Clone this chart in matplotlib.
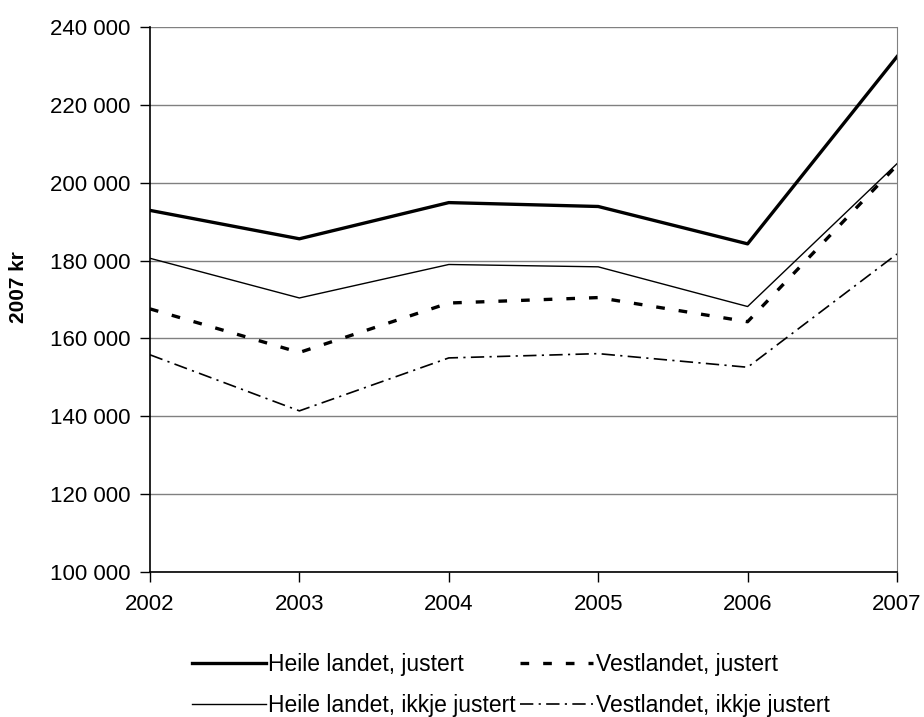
import matplotlib.pyplot as plt
from matplotlib.ticker import FuncFormatter

plt.rcParams['font.family'] = ['Liberation Sans', 'DejaVu Sans']

years = [2002, 2003, 2004, 2005, 2006, 2007]
heile_justert = [192900, 185600, 194900, 193900, 184300, 232400]
heile_ikkje = [180600, 170400, 179000, 178400, 168200, 204900]
vest_justert = [167600, 156400, 169100, 170500, 164300, 204500]
vest_ikkje = [155800, 141400, 155000, 156100, 152600, 181700]

fig = plt.figure(figsize=(9.24, 7.17), dpi=100)
ax = fig.add_axes([0.1623, 0.2022, 0.8085, 0.7601])

ax.plot(years, heile_justert, color='black', lw=2.4, label='Heile landet, justert')
ax.plot(years, heile_ikkje, color='black', lw=1.0, label='Heile landet, ikkje justert')
ax.plot(years, vest_justert, color='black', lw=2.4, dashes=(2.6, 4.2),
        label='Vestlandet, justert')
ax.plot(years, vest_ikkje, color='black', lw=1.2, dashes=(8, 3.2, 1.3, 3.2),
        label='Vestlandet, ikkje justert')

ax.set_xlim(2002, 2007)
ax.set_ylim(100000, 240000)
ax.set_xticks(years)
ax.set_yticks(range(100000, 240001, 20000))
ax.yaxis.set_major_formatter(FuncFormatter(lambda v, p: f'{int(v):,}'.replace(',', ' ')))
ax.tick_params(direction='out', length=7, width=1, color='black')
ax.tick_params(axis='x', labelsize=16, pad=9)
ax.tick_params(axis='y', labelsize=16, pad=7)

ax.grid(axis='y', color='#808080', lw=1)
ax.set_axisbelow(True)
ax.spines['top'].set_visible(False)
ax.spines['right'].set_color('#808080')
ax.spines['left'].set_linewidth(1.2)
ax.spines['bottom'].set_linewidth(1.2)

ax.set_ylabel('2007 kr', fontsize=15, fontweight='bold')
ax.yaxis.set_label_coords(-0.163, 0.523)

fig.legend(loc='lower center', bbox_to_anchor=(0.553, -0.029), ncol=2, frameon=False,
           fontsize=16.5, handlelength=3.2, handletextpad=0.1, columnspacing=0.2,
           labelspacing=0.8)

fig.savefig('out.png', dpi=100)
